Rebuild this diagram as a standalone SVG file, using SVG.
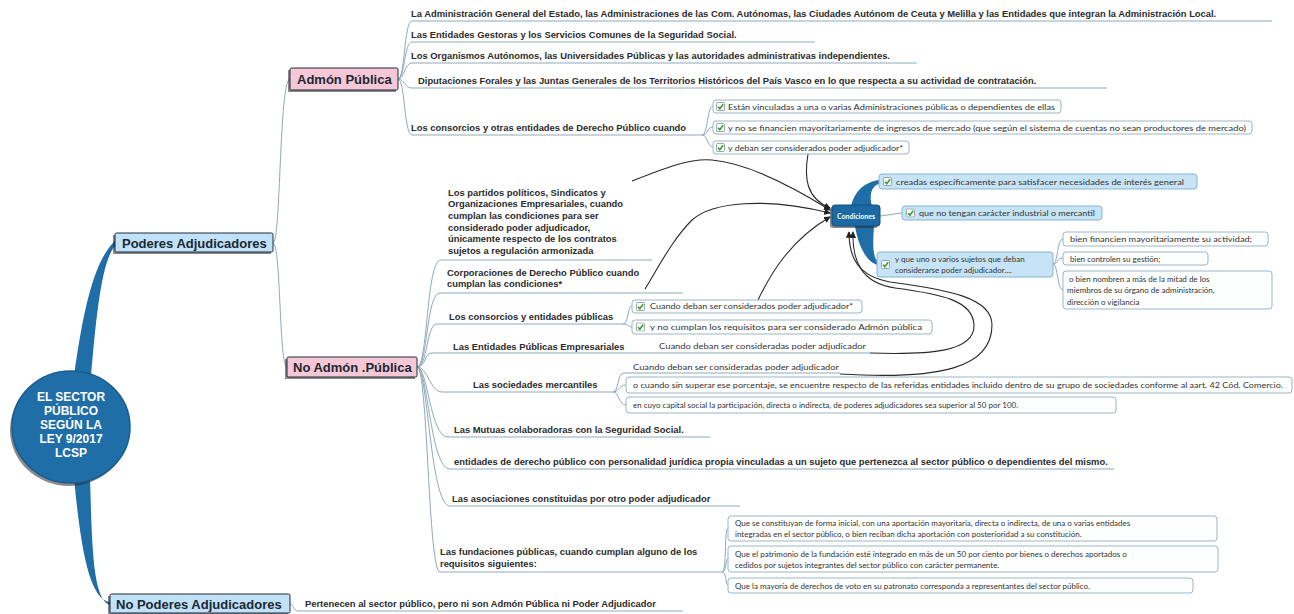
<svg xmlns="http://www.w3.org/2000/svg" xmlns:xlink="http://www.w3.org/1999/xlink" width="1294" height="614" viewBox="0 0 1294 614">
<defs>
<style>
.ln{fill:none;stroke:#8ea9ba;stroke-width:1}
.ar{fill:none;stroke:#2a2a2a;stroke-width:1.1;marker-end:url(#ah)}
.b{font-family:"Liberation Sans",Arial,sans-serif;font-weight:bold;font-size:9.4px;fill:#2b2b2b}
.s{font-family:Lato,"Open Sans",sans-serif;font-size:8px;fill:#333}
.hd{font-family:"Liberation Sans",Arial,sans-serif;font-weight:bold;font-size:13px;fill:#1b2733}
.bx{fill:#fdfefe;stroke:#9db6c5;stroke-width:1}
.bxb{fill:#c7e4f6;stroke:#86b3cf;stroke-width:1}
.sh{fill:#2a2a2a;opacity:.55}
.blue{fill:#c0e1f7;stroke:#1d2b38;stroke-width:1}
.pink{fill:#f6c7d4;stroke:#1d2b38;stroke-width:1}
.wedge{fill:#1f6ea7}
</style>
<marker id="ah" viewBox="0 0 8 8" refX="7" refY="4" markerWidth="6" markerHeight="6" orient="auto"><path d="M0,0 L8,4 L0,8 z" fill="#222"/></marker>
<symbol id="ck" viewBox="0 0 10 10"><rect x="0.5" y="0.5" width="9" height="9" rx="1.5" fill="#fff" stroke="#8a9aa5"/><path d="M2.2,5.2 L4.2,7.4 L8,2.4" fill="none" stroke="#3a9c2c" stroke-width="1.8"/></symbol>
</defs>
<rect width="1294" height="614" fill="#fff"/>

<g id="connectors">
<path class="wedge" d="M74,376 C82,320 92,262 115,241 L115,246 C101,262 96,320 91,376 Z"/>
<path class="wedge" d="M74,478 C80,540 88,600 110,602 L110,605 C92,600 92,540 90,478 Z"/>
<path class="ln" d="M273,243 C281,243 279,79 290,79"/>
<path class="ln" d="M273,243 C281,243 279,367 287,367"/>
<path class="ln" d="M290,604 C294,604 293,611 298,611 L683,611"/>
<path class="ln" d="M398,79 C405,79 404,21 412,21 L1272,21"/>
<path class="ln" d="M398,79 C405,79 404,42 412,42 L815,42"/>
<path class="ln" d="M398,79 C405,79 404,63 412,63 L917,63"/>
<path class="ln" d="M398,79 C405,79 404,88 412,88 L1107,88"/>
<path class="ln" d="M398,79 C405,79 404,135 412,135 L702,135"/>
<path class="ln" d="M702,135 C708,135 707,106 713,106"/>
<path class="ln" d="M702,135 C708,135 707,127 713,127"/>
<path class="ln" d="M702,135 C708,135 707,147 713,147"/>
<path class="ln" d="M417,367 C428,367 426,260 441,260 L652,260"/>
<path class="ln" d="M417,367 C428,367 426,293 440,293 L683,293"/>
<path class="ln" d="M417,367 C428,367 426,324 437,324 L623,324"/>
<path class="ln" d="M417,367 C426,367 424,353 432,353 L870,353"/>
<path class="ln" d="M417,367 C428,367 430,392 442,392 L613,392"/>
<path class="ln" d="M417,367 C428,367 430,437 448,437 L710,437"/>
<path class="ln" d="M417,367 C428,367 430,469 450,469 L1114,469"/>
<path class="ln" d="M417,367 C428,367 430,506 450,506 L740,506"/>
<path class="ln" d="M417,367 C428,367 428,572 440,572 L722,572"/>
<path class="ln" d="M623,324 C629,324 627,306 632,306"/>
<path class="ln" d="M623,324 C629,324 628,327 632,327"/>
<path class="ln" d="M613,392 C619,392 617,373 624,373 L840,373"/>
<path class="ln" d="M613,392 C619,392 619,385 626,385"/>
<path class="ln" d="M613,392 C619,392 619,405 626,405"/>
<path class="ln" d="M722,572 C727,572 724,528 728,528"/>
<path class="ln" d="M722,572 C727,572 725,559 728,559"/>
<path class="ln" d="M722,572 C727,572 725,585 728,585"/>
<path class="wedge" d="M851,206 C855,190 865,182 879,180 L879,184 C871,186 869,196 872,206 Z"/>
<path class="wedge" d="M855,226 C858,245 866,262 878,265 L878,262 C872,257 873,240 874,226 Z"/>
<path class="ln" d="M880,216 L902,213"/>
<path class="ln" d="M1053,264 C1058,264 1057,239 1063,239"/>
<path class="ln" d="M1053,264 C1058,264 1057,258 1063,258"/>
<path class="ln" d="M1053,264 C1058,264 1057,290 1063,290"/>
<path class="ar" d="M808,154 C804,178 806,198 830,208"/>
<path class="ar" d="M632,181 C665,168 690,158 712,160 C745,163 790,185 830,210"/>
<path class="ar" d="M645,289 C658,268 672,240 692,220 C712,202 765,197 830,213"/>
<path class="ar" d="M758,300 C770,275 790,240 830,217"/>
<path class="ar" d="M870,353 C930,355 975,352 974,325 C973,300 940,294 895,288 C862,283 852,262 853,232"/>
<path class="ar" d="M840,374 C940,380 992,368 992,325 C992,298 950,290 890,282 C858,276 849,258 849,232"/>
</g>

<g id="root">
<ellipse cx="69" cy="430" rx="59" ry="56" class="sh"/>
<ellipse cx="71" cy="427" rx="59" ry="56" fill="#1f6ea7" stroke="#185d8f" stroke-width="1.5"/>
<g font-family="Liberation Sans, Arial, sans-serif" font-weight="bold" font-size="12" fill="#fff" text-anchor="middle">
<text x="71" y="401">EL SECTOR</text>
<text x="71" y="415">PÚBLICO</text>
<text x="71" y="429">SEGÚN LA</text>
<text x="71" y="443">LEY 9/2017</text>
<text x="71" y="457">LCSP</text>
</g>
</g>

<g id="n-poderes">
<rect x="113" y="235" width="158" height="19" class="sh"/>
<rect x="115" y="233" width="158" height="19" rx="1.5" class="blue"/>
<text x="122" y="247.5" class="hd">Poderes Adjudicadores</text>
</g>

<g id="n-nopoderes">
<rect x="108" y="596" width="180" height="19" class="sh"/>
<rect x="110" y="594" width="180" height="19" rx="1.5" class="blue"/>
<text x="116" y="608.5" class="hd">No Poderes Adjudicadores</text>
<text x="305" y="607" class="b">Pertenecen al sector público, pero ni son Admón Pública ni Poder Adjudicador</text>
</g>

<g id="n-admon">
<rect x="288" y="70" width="108" height="22" class="sh"/>
<rect x="290" y="68" width="108" height="22" rx="1.5" class="pink"/>
<text x="297" y="84" class="hd">Admón Pública</text>
</g>

<g id="n-admon-children">
<text x="411" y="17" class="b">La Administración General del Estado, las Administraciones de las Com. Autónomas, las Ciudades Autónom de Ceuta y Melilla y las Entidades que integran la Administración Local.</text>
<text x="411" y="38" class="b">Las Entidades Gestoras y los Servicios Comunes de la Seguridad Social.</text>
<text x="411" y="59" class="b">Los Organismos Autónomos, las Universidades Públicas y las autoridades administrativas independientes.</text>
<text x="418" y="84" class="b">Diputaciones Forales y las Juntas Generales de los Territorios Históricos del País Vasco en lo que respecta a su actividad de contratación.</text>
<text x="411" y="131" class="b">Los consorcios y otras entidades de Derecho Público cuando</text>
</g>

<g id="n-consorcios-cond">
<rect x="713" y="100" width="348" height="13" rx="3" class="bx"/>
<use xlink:href="#ck" href="#ck" x="716" y="102" width="9" height="9"/>
<text x="728" y="109.6" class="s" textLength="327" lengthAdjust="spacingAndGlyphs">Están vinculadas a una o varias Administraciones públicas o dependientes de ellas</text>
<rect x="713" y="121" width="539" height="13" rx="3" class="bx"/>
<use xlink:href="#ck" href="#ck" x="716" y="123" width="9" height="9"/>
<text x="728" y="130.6" class="s" textLength="518" lengthAdjust="spacingAndGlyphs">y no se financien mayoritariamente de ingresos de mercado (que según el sistema de cuentas no sean productores de mercado)</text>
<rect x="713" y="141" width="196" height="13" rx="3" class="bx"/>
<use xlink:href="#ck" href="#ck" x="716" y="143" width="9" height="9"/>
<text x="728" y="150.6" class="s" textLength="175" lengthAdjust="spacingAndGlyphs">y deban ser considerados poder adjudicador*</text>
</g>

<g id="n-condiciones">
<rect x="830" y="207" width="48" height="21" rx="3" class="sh"/>
<rect x="832" y="205" width="48" height="21" rx="3" fill="#1d69a3" stroke="#124e7c"/>
<text x="856" y="218.5" font-family="Lato, sans-serif" font-weight="bold" font-size="7" fill="#fff" text-anchor="middle">Condiciones</text>
</g>

<g id="n-cond-children">
<rect x="879" y="174" width="318" height="15" rx="3" class="bxb"/>
<use xlink:href="#ck" href="#ck" x="883" y="177" width="9" height="9"/>
<text x="896" y="184.5" class="s" textLength="288" lengthAdjust="spacingAndGlyphs">creadas específicamente para satisfacer necesidades de interés general</text>
<rect x="902" y="206" width="200" height="14" rx="3" class="bxb"/>
<use xlink:href="#ck" href="#ck" x="906" y="208.5" width="9" height="9"/>
<text x="919" y="216" class="s" textLength="176" lengthAdjust="spacingAndGlyphs">que no tengan carácter industrial o mercantil</text>
<rect x="877" y="252" width="176" height="25" rx="3" class="bxb"/>
<use xlink:href="#ck" href="#ck" x="881" y="260" width="9" height="9"/>
<text x="895" y="261.5" class="s">y que uno o varios sujetos que deban</text>
<text x="895" y="272.5" class="s">considerarse poder adjudicador....</text>
<rect x="1063" y="232" width="205" height="14" rx="3" class="bx"/>
<text x="1070" y="242" class="s" textLength="182" lengthAdjust="spacingAndGlyphs">bien financien mayoritariamente su actividad;</text>
<rect x="1063" y="252" width="145" height="13" rx="3" class="bx"/>
<text x="1070" y="261.5" class="s">bien controlen su gestión;</text>
<rect x="1063" y="271" width="209" height="38" rx="3" class="bx"/>
<text x="1069" y="281.5" class="s">o bien nombren a más de la mitad de los</text>
<text x="1067" y="293" class="s">miembros de su órgano de administración,</text>
<text x="1067" y="304.5" class="s">dirección o vigilancia</text>
</g>

<g id="n-noadmon">
<rect x="285" y="359" width="130" height="20" class="sh"/>
<rect x="287" y="357" width="130" height="20" rx="1.5" class="pink"/>
<text x="293" y="372" class="hd">No Admón .Pública</text>
</g>

<g id="n-partidos">
<text x="448" y="195.5" class="b">Los partidos políticos, Sindicatos y</text>
<text x="448" y="207.3" class="b">Organizaciones Empresariales, cuando</text>
<text x="448" y="219" class="b">cumplan las condiciones para ser</text>
<text x="448" y="230.7" class="b">considerado poder adjudicador,</text>
<text x="448" y="242.4" class="b">únicamente respecto de los contratos</text>
<text x="448" y="254" class="b">sujetos a regulación armonizada</text>
</g>

<g id="n-corporaciones">
<text x="447" y="275.5" class="b">Corporaciones de Derecho Público cuando</text>
<text x="447" y="287" class="b">cumplan las condiciones*</text>
</g>

<g id="n-consorcios-ent">
<text x="449" y="320" class="b">Los consorcios y entidades públicas</text>
<rect x="632" y="300" width="230" height="13" rx="3" class="bx"/>
<use xlink:href="#ck" href="#ck" x="636" y="302" width="9" height="9"/>
<text x="650" y="309.4" class="s" textLength="203" lengthAdjust="spacingAndGlyphs">Cuando deban ser considerados poder adjudicador*</text>
<rect x="632" y="320" width="300" height="14" rx="3" class="bx"/>
<use xlink:href="#ck" href="#ck" x="636" y="322.5" width="9" height="9"/>
<text x="650" y="330" class="s" textLength="272" lengthAdjust="spacingAndGlyphs">y no cumplan los requisitos para ser considerado Admón pública</text>
</g>

<g id="n-epe">
<text x="453" y="349.5" class="b">Las Entidades Públicas Empresariales</text>
<text x="659" y="348.5" class="s" textLength="207" lengthAdjust="spacingAndGlyphs">Cuando deban ser consideradas poder adjudicador</text>
</g>

<g id="n-sociedades">
<text x="473" y="388" class="b">Las sociedades mercantiles</text>
<text x="633" y="369.5" class="s" textLength="206" lengthAdjust="spacingAndGlyphs">Cuando deban ser consideradas poder adjudicador</text>
<rect x="626" y="377" width="666" height="16" rx="3" class="bx"/>
<text x="633" y="388" class="s" textLength="650" lengthAdjust="spacingAndGlyphs">o cuando sin superar ese porcentaje, se encuentre respecto de las referidas entidades incluido dentro de su grupo de sociedades conforme al aart. 42 Cód. Comercio.</text>
<rect x="626" y="397" width="490" height="16" rx="3" class="bx"/>
<text x="633" y="408" class="s">en cuyo capital social la participación, directa o indirecta, de poderes adjudicadores sea superior al 50 por 100.</text>
</g>

<g id="n-mutuas"><text x="454" y="432.5" class="b">Las Mutuas colaboradoras con la Seguridad Social.</text></g>
<g id="n-entidades"><text x="454" y="464.5" class="b">entidades de derecho público con personalidad jurídica propia vinculadas a un sujeto que pertenezca al sector público o dependientes del mismo.</text></g>
<g id="n-asociaciones"><text x="452" y="501.5" class="b">Las asociaciones constituidas por otro poder adjudicador</text></g>

<g id="n-fundaciones">
<text x="440" y="554.5" class="b">Las fundaciones públicas, cuando cumplan alguno de los</text>
<text x="440" y="567" class="b">requisitos siguientes:</text>
<rect x="728" y="516" width="489" height="25" rx="3" class="bx"/>
<text x="735" y="526" class="s">Que se constituyan de forma inicial, con una aportación mayoritaria, directa o indirecta, de una o varias entidades</text>
<text x="735" y="537" class="s">integradas en el sector público, o bien reciban dicha aportación con posterioridad a su constitución.</text>
<rect x="728" y="546" width="490" height="26" rx="3" class="bx"/>
<text x="735" y="556.5" class="s">Que el patrimonio de la fundación esté integrado en más de un 50 por ciento por bienes o derechos aportados o</text>
<text x="735" y="567.5" class="s">cedidos por sujetos integrantes del sector público con carácter permanente.</text>
<rect x="728" y="578" width="465" height="15" rx="3" class="bx"/>
<text x="735" y="588.5" class="s">Que la mayoría de derechos de voto en su patronato corresponda a representantes del sector público.</text>
</g>
</svg>
